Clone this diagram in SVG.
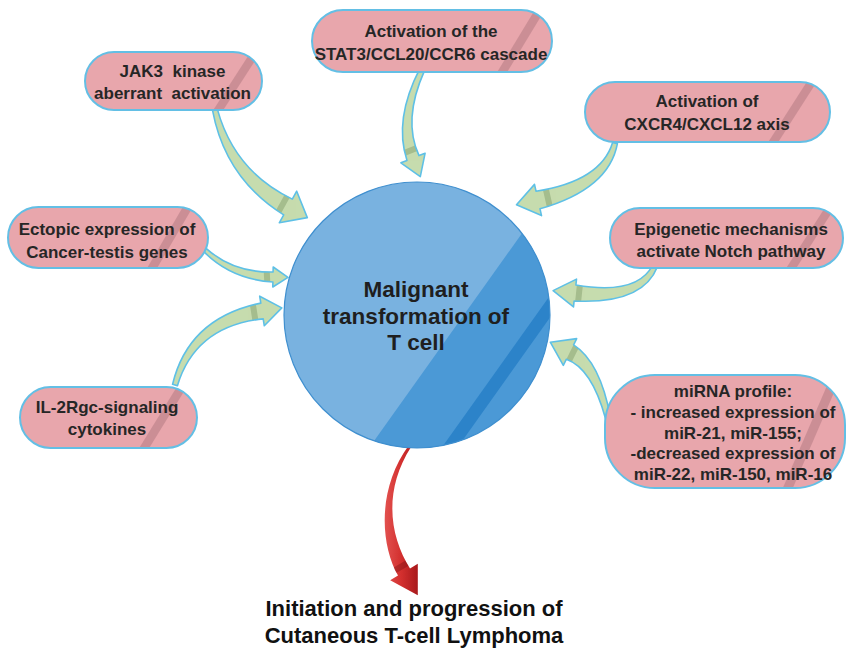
<svg xmlns="http://www.w3.org/2000/svg" xmlns:xlink="http://www.w3.org/1999/xlink" width="846" height="650" viewBox="0 0 846 650">
  <defs>
    <style>
      .pill { fill: #e8a6ac; }
      .pill-edge { fill: none; stroke: #63bfe5; stroke-width: 2; }
      .stripe { fill: #a8707a; opacity: 0.45; }
      .pt { font-family: "Liberation Sans", Arial, sans-serif; font-weight: bold; font-size: 17px; fill: #262626; text-anchor: middle; }
      .ct { font-family: "Liberation Sans", Arial, sans-serif; font-weight: bold; font-size: 22.5px; fill: #1f1f1f; text-anchor: middle; }
      .bt { font-family: "Liberation Sans", Arial, sans-serif; font-weight: bold; font-size: 22px; fill: #111; text-anchor: middle; }
      .g-fill { fill: #c6dcae; }
      .g-edge { fill: none; stroke: #5ec0e6; stroke-width: 1.6; stroke-linejoin: round; }
      .g-band { stroke: #4f6f3c; stroke-width: 6; opacity: 0.28; }
      .r-band { stroke: #6e0c10; stroke-width: 6; opacity: 0.35; }
    </style>

    <!-- curved block arrows -->
    <path id="p-a1" d="M212.6,110.6 Q225.4,178.5 283.7,214.9 L279.3,222.8 L307.3,217.6 L296.7,191.2 L292.3,199.1 Q234.6,171.5 217.4,109.4 Z"/>
    <path id="p-a2" d="M419.7,68.9 Q393.5,119.8 407.0,160.4 L400.9,162.8 L420.3,176.6 L425.1,153.2 L419.0,155.6 Q402.5,120.2 424.3,71.1 Z"/>
    <path id="p-a3" d="M612.6,142.4 Q601.0,180.9 536.0,191.2 L534.5,184.4 L516.5,204.8 L541.5,215.6 L540.0,208.8 Q609.0,189.1 617.4,143.6 Z"/>
    <path id="p-a4" d="M203.6,251.4 Q230.7,279.2 272.9,282.0 L272.8,287.0 L288.0,277.4 L273.2,267.0 L273.1,272.0 Q233.3,272.8 206.4,248.6 Z"/>
    <path id="p-a5" d="M177.4,385.7 Q195.5,325.9 263.2,318.9 L264.3,325.8 L281.8,307.9 L259.7,296.2 L260.8,303.1 Q188.5,318.1 172.6,384.3 Z"/>
    <path id="p-a6" d="M652.7,265.0 Q637.4,295.5 575.9,285.0 L576.5,279.1 L553.1,290.6 L573.5,306.9 L574.1,301.0 Q642.6,304.5 657.3,267.0 Z"/>
    <path id="p-a7" d="M610.5,417.5 Q600.2,361.8 573.6,344.8 L576.7,338.6 L550.3,342.2 L563.3,365.4 L566.4,359.2 Q591.8,368.2 605.5,418.5 Z"/>
    <path id="p-out" d="M408.8,445.2 C377.5,488.3 379.8,543.1 398.0,575.6 L390.2,580.2 L417.8,595.2 L417.8,563.8 L410.0,568.4 C390.2,536.9 382.5,491.7 411.2,446.8 Z"/>

    <clipPath id="k-a1"><use xlink:href="#p-a1"/></clipPath>
    <clipPath id="k-a2"><use xlink:href="#p-a2"/></clipPath>
    <clipPath id="k-a3"><use xlink:href="#p-a3"/></clipPath>
    <clipPath id="k-a4"><use xlink:href="#p-a4"/></clipPath>
    <clipPath id="k-a5"><use xlink:href="#p-a5"/></clipPath>
    <clipPath id="k-a6"><use xlink:href="#p-a6"/></clipPath>
    <clipPath id="k-a7"><use xlink:href="#p-a7"/></clipPath>
    <clipPath id="k-out"><use xlink:href="#p-out"/></clipPath>

    <linearGradient id="red" x1="0" y1="0" x2="1" y2="0">
      <stop offset="0" stop-color="#e2514f"/>
      <stop offset="0.5" stop-color="#d3302f"/>
      <stop offset="1" stop-color="#a8191c"/>
    </linearGradient>

    <!-- pill outlines, reused for clipping the sheen stripes -->
    <rect id="r-jak3" x="85" y="52" width="177" height="58" rx="29"/>
    <rect id="r-stat3" x="312" y="10" width="240" height="62" rx="31"/>
    <rect id="r-cxcr4" x="585" y="82" width="245" height="60" rx="30"/>
    <rect id="r-ectopic" x="8" y="207" width="200" height="61" rx="30.5"/>
    <rect id="r-notch" x="610" y="208" width="233" height="60" rx="30"/>
    <rect id="r-il2" x="20" y="387" width="177" height="61" rx="30.5"/>
    <rect id="r-mirna" x="605" y="375" width="240" height="113" rx="50"/>
    <clipPath id="k-jak3"><use xlink:href="#r-jak3"/></clipPath>
    <clipPath id="k-stat3"><use xlink:href="#r-stat3"/></clipPath>
    <clipPath id="k-cxcr4"><use xlink:href="#r-cxcr4"/></clipPath>
    <clipPath id="k-ectopic"><use xlink:href="#r-ectopic"/></clipPath>
    <clipPath id="k-notch"><use xlink:href="#r-notch"/></clipPath>
    <clipPath id="k-il2"><use xlink:href="#r-il2"/></clipPath>
    <clipPath id="k-mirna"><use xlink:href="#r-mirna"/></clipPath>

    <clipPath id="k-circle"><circle cx="417" cy="315" r="133"/></clipPath>
  </defs>

  <rect width="846" height="650" fill="#ffffff"/>

  <g id="connectors">
    <g id="arrow-jak3">
      <use xlink:href="#p-a1" class="g-fill"/>
      <line class="g-band" clip-path="url(#k-a1)" x1="273.1" y1="221.6" x2="292.4" y2="186.6"/>
      <use xlink:href="#p-a1" class="g-edge"/>
    </g>
    <g id="arrow-stat3">
      <use xlink:href="#p-a2" class="g-fill"/>
      <line class="g-band" clip-path="url(#k-a2)" x1="391.5" y1="157.9" x2="428.7" y2="143.3"/>
      <use xlink:href="#p-a2" class="g-edge"/>
    </g>
    <g id="arrow-cxcr4">
      <use xlink:href="#p-a3" class="g-fill"/>
      <line class="g-band" clip-path="url(#k-a3)" x1="543.4" y1="178.3" x2="552.2" y2="217.3"/>
      <use xlink:href="#p-a3" class="g-edge"/>
    </g>
    <g id="arrow-ectopic">
      <use xlink:href="#p-a4" class="g-fill"/>
      <line class="g-band" clip-path="url(#k-a4)" x1="266.5" y1="266.9" x2="267.5" y2="286.9"/>
      <use xlink:href="#p-a4" class="g-edge"/>
    </g>
    <g id="arrow-il2">
      <use xlink:href="#p-a5" class="g-fill"/>
      <line class="g-band" clip-path="url(#k-a5)" x1="257.2" y1="332.0" x2="251.0" y2="292.4"/>
      <use xlink:href="#p-a5" class="g-edge"/>
    </g>
    <g id="arrow-notch">
      <use xlink:href="#p-a6" class="g-fill"/>
      <line class="g-band" clip-path="url(#k-a6)" x1="581.1" y1="273.5" x2="576.9" y2="313.3"/>
      <use xlink:href="#p-a6" class="g-edge"/>
    </g>
    <g id="arrow-mirna">
      <use xlink:href="#p-a7" class="g-fill"/>
      <line class="g-band" clip-path="url(#k-a7)" x1="581.6" y1="335.4" x2="563.8" y2="371.2"/>
      <use xlink:href="#p-a7" class="g-edge"/>
    </g>
    <g id="arrow-outcome">
      <use xlink:href="#p-out" fill="url(#red)"/>
      <line class="r-band" clip-path="url(#k-out)" x1="383.7" y1="577.0" x2="418.1" y2="556.6"/>
    </g>
  </g>

  <g id="node-center">
    <circle cx="417" cy="315" r="133" fill="#79b2e0"/>
    <g clip-path="url(#k-circle)">
      <polygon points="312,528 602,121 720,121 720,528" fill="#4b99d6"/>
      <polygon points="387,524.5 677,117 702,104 412,511.5" fill="#2c83c9"/>
    </g>
    <circle cx="417" cy="315" r="133" fill="none" stroke="#3f8fcf" stroke-width="1.2"/>
    <text class="ct" x="416" y="297">Malignant</text>
    <text class="ct" x="416" y="323.5">transformation of</text>
    <text class="ct" x="416" y="350">T cell</text>
  </g>

  <g id="node-jak3">
    <use xlink:href="#r-jak3" class="pill"/>
    <polygon class="stripe" clip-path="url(#k-jak3)" points="212,112 252,50 262,50 222,112"/>
    <use xlink:href="#r-jak3" class="pill-edge"/>
    <text class="pt" x="172.5" y="77" xml:space="preserve">JAK3  kinase</text>
    <text class="pt" x="172.5" y="98.5" xml:space="preserve">aberrant  activation</text>
  </g>

  <g id="node-stat3">
    <use xlink:href="#r-stat3" class="pill"/>
    <polygon class="stripe" clip-path="url(#k-stat3)" points="496,74 536,8 546,8 506,74"/>
    <use xlink:href="#r-stat3" class="pill-edge"/>
    <text class="pt" x="431" y="37">Activation of the</text>
    <text class="pt" x="431" y="60">STAT3/CCL20/CCR6 cascade</text>
  </g>

  <g id="node-cxcr4">
    <use xlink:href="#r-cxcr4" class="pill"/>
    <polygon class="stripe" clip-path="url(#k-cxcr4)" points="767,144 808,80 818,80 777,144"/>
    <use xlink:href="#r-cxcr4" class="pill-edge"/>
    <text class="pt" x="707" y="107">Activation of</text>
    <text class="pt" x="707" y="130">CXCR4/CXCL12 axis</text>
  </g>

  <g id="node-ectopic">
    <use xlink:href="#r-ectopic" class="pill"/>
    <polygon class="stripe" clip-path="url(#k-ectopic)" points="146,270 184,205 194,205 156,270"/>
    <use xlink:href="#r-ectopic" class="pill-edge"/>
    <text class="pt" x="107" y="235">Ectopic expression of</text>
    <text class="pt" x="107" y="258">Cancer-testis genes</text>
  </g>

  <g id="node-notch">
    <use xlink:href="#r-notch" class="pill"/>
    <polygon class="stripe" clip-path="url(#k-notch)" points="785,270 826,206 836,206 795,270"/>
    <use xlink:href="#r-notch" class="pill-edge"/>
    <text class="pt" x="731" y="235">Epigenetic mechanisms</text>
    <text class="pt" x="731" y="257">activate Notch pathway</text>
  </g>

  <g id="node-il2">
    <use xlink:href="#r-il2" class="pill"/>
    <polygon class="stripe" clip-path="url(#k-il2)" points="138,450 178,385 188,385 148,450"/>
    <use xlink:href="#r-il2" class="pill-edge"/>
    <text class="pt" x="107" y="413">IL-2Rgc-signaling</text>
    <text class="pt" x="107" y="435">cytokines</text>
  </g>

  <g id="node-mirna">
    <use xlink:href="#r-mirna" class="pill"/>
    <polygon class="stripe" clip-path="url(#k-mirna)" points="782,490 832,374 842,374 792,490"/>
    <use xlink:href="#r-mirna" class="pill-edge"/>
    <text class="pt" x="733" y="397">miRNA profile:</text>
    <text class="pt" x="733" y="418">- increased expression of</text>
    <text class="pt" x="733" y="438.5">miR-21, miR-155;</text>
    <text class="pt" x="733" y="459">-decreased expression of</text>
    <text class="pt" x="733" y="480">miR-22, miR-150, miR-16</text>
  </g>

  <g id="node-outcome">
    <text class="bt" x="414" y="616">Initiation and progression of</text>
    <text class="bt" x="414" y="643">Cutaneous T-cell Lymphoma</text>
  </g>
</svg>
